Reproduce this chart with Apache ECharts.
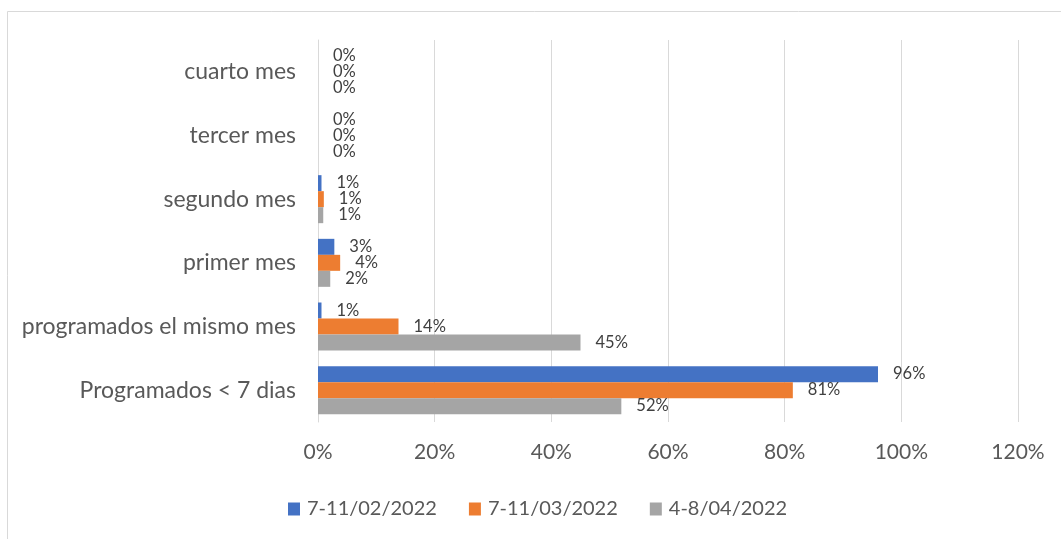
<!DOCTYPE html>
<html>
<head>
<meta charset="utf-8">
<script src="https://cdn.jsdelivr.net/npm/echarts@6/dist/echarts.min.js"></script>
<style>
  html, body { margin: 0; padding: 0; background: #fff; }
  #chart { width: 1061px; height: 539px; }
</style>
</head>
<body>
<div id="chart"></div>
<script>
// Categories, listed top to bottom
const categories = ['cuarto mes', 'tercer mes', 'segundo mes', 'primer mes', 'programados el mismo mes', 'Programados < 7 dias'];
const seriesNames = ['7-11/02/2022', '7-11/03/2022', '4-8/04/2022'];
// Percent values per series, same order as categories
const feb = [0, 0, 0.6, 2.8, 0.6, 96.0];
const mar = [0, 0, 1.0, 3.8, 13.8, 81.4];
const abr = [0, 0, 0.9, 2.1, 45.0, 52.0];
const xTicks = [0, 20, 40, 60, 80, 100, 120];
const colors = ['#4472C4', '#ED7D31', '#A5A5A5'];

const FONT = 'Lato, "Open Sans", sans-serif';

function barSeries(name, data, color) {
  return {
    name: name,
    type: 'bar',
    data: data,
    barWidth: 16,
    barGap: '0%',
    itemStyle: { color: color },
    label: {
      show: true,
      position: 'right',
      distance: 15,
      fontFamily: FONT,
      fontSize: 16.5,
      color: '#404040',
      formatter: p => Math.round(p.value) + '%'
    }
  };
}

const chart = echarts.init(document.getElementById('chart'), null, { renderer: 'canvas' });
chart.setOption({
  animation: false,
  backgroundColor: '#ffffff',
  textStyle: { fontFamily: FONT },
  graphic: [{
    type: 'rect',
    shape: { x: 7.5, y: 11.5, width: 1100, height: 600 },
    style: { fill: 'none', stroke: '#d9d9d9', lineWidth: 1 },
    silent: true
  }],
  grid: { left: 318, right: 43, top: 40, bottom: 117, containLabel: false },
  legend: {
    data: seriesNames,
    left: 283,
    top: 494,
    icon: 'rect',
    itemWidth: 12,
    itemHeight: 13,
    itemGap: 32,
    textStyle: { fontFamily: FONT, fontSize: 20, color: '#595959', padding: [0, 0, 0, 2] }
  },
  xAxis: {
    type: 'value',
    min: xTicks[0],
    max: xTicks[xTicks.length - 1],
    interval: 20,
    axisLine: { show: false },
    axisTick: { show: false },
    splitLine: { show: true, lineStyle: { color: '#d9d9d9', width: 1 } },
    axisLabel: {
      fontFamily: FONT,
      fontSize: 21,
      color: '#595959',
      margin: 20,
      formatter: '{value}%'
    }
  },
  yAxis: {
    type: 'category',
    inverse: true,
    data: categories,
    axisLine: { show: true, lineStyle: { color: '#d9d9d9', width: 1 } },
    axisTick: { show: false },
    splitLine: { show: false },
    axisLabel: {
      fontFamily: FONT,
      fontSize: 23,
      color: '#595959',
      margin: 22
    }
  },
  series: [
    barSeries(seriesNames[0], feb, colors[0]),
    barSeries(seriesNames[1], mar, colors[1]),
    barSeries(seriesNames[2], abr, colors[2])
  ]
});
</script>
</body>
</html>
